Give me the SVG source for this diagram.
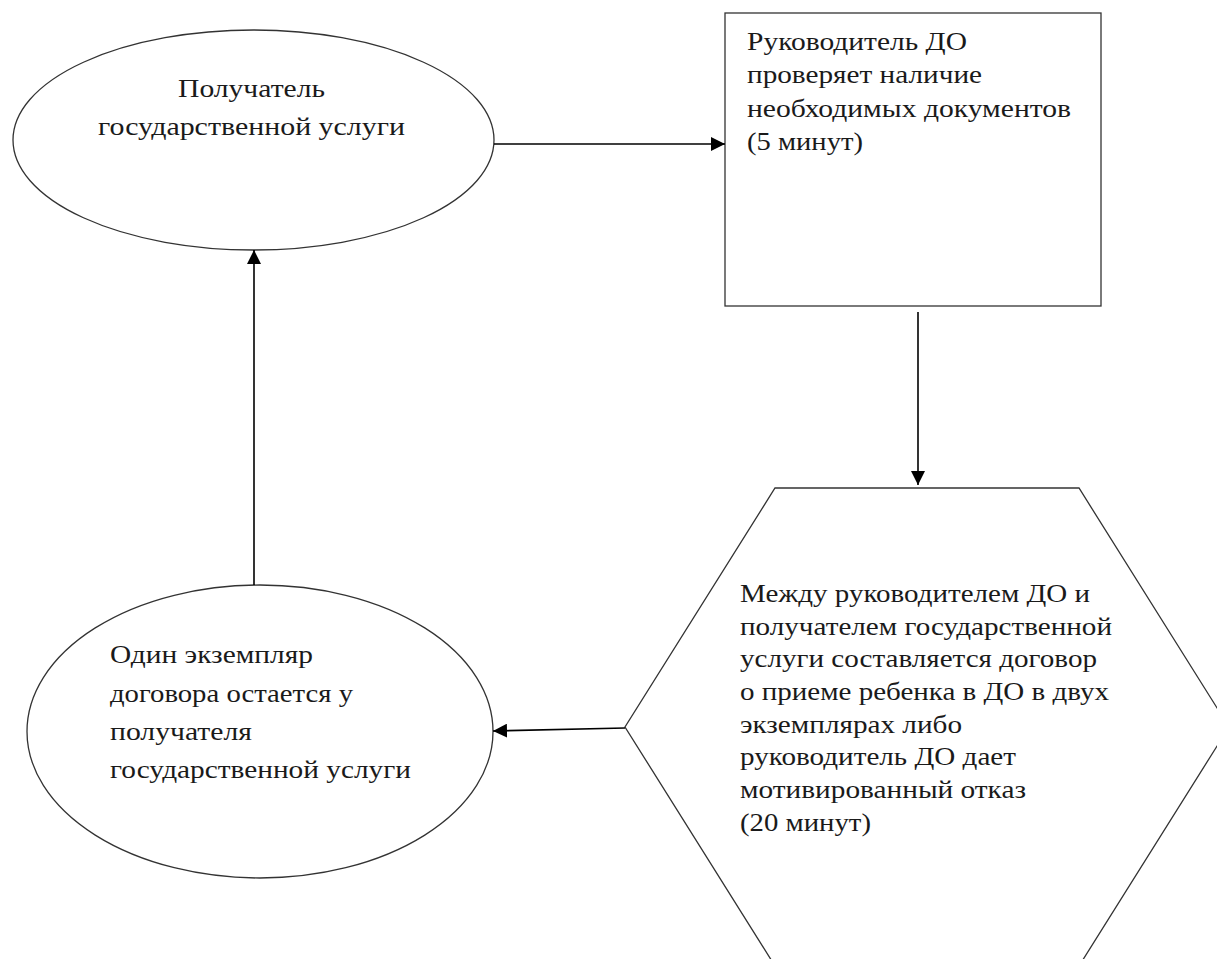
<svg xmlns="http://www.w3.org/2000/svg" width="1217" height="959" viewBox="0 0 1217 959">
<style>
.shape{fill:#fff;stroke:#333;stroke-width:1.3}
.conn{stroke:#000;stroke-width:1.6;fill:none}
.t{font-family:'Liberation Serif','Times New Roman',serif;font-size:26px;fill:#1a1a1a}
</style>
<defs>
<marker id="arr" viewBox="0 0 14 14" refX="14" refY="7" markerWidth="14" markerHeight="14" markerUnits="userSpaceOnUse" orient="auto">
<path d="M0,0 L14,7 L0,14 z" fill="#000"/>
</marker>
</defs>
<rect width="1217" height="959" fill="#fff"/>
<g id="recipient">
<ellipse class="shape" cx="253.5" cy="140" rx="240.5" ry="110"/>
<g class="t">
<text x="178" y="97" textLength="147" lengthAdjust="spacingAndGlyphs">Получатель</text>
<text x="98" y="135" textLength="307" lengthAdjust="spacingAndGlyphs">государственной услуги</text>
</g>
</g>
<g id="check">
<rect class="shape" x="725" y="13" width="376" height="293"/>
<g class="t">
<text x="747" y="50" textLength="220" lengthAdjust="spacingAndGlyphs">Руководитель ДО</text>
<text x="747" y="83" textLength="235" lengthAdjust="spacingAndGlyphs">проверяет наличие</text>
<text x="747" y="117" textLength="324" lengthAdjust="spacingAndGlyphs">необходимых документов</text>
<text x="747" y="150" textLength="116" lengthAdjust="spacingAndGlyphs">(5 минут)</text>
</g>
</g>
<g id="contract">
<polygon class="shape" points="775,488 1079,488 1229,727 1079,966 775,966 625,727"/>
<g class="t">
<text x="740" y="602" textLength="350" lengthAdjust="spacingAndGlyphs">Между руководителем ДО и</text>
<text x="740" y="635" textLength="372" lengthAdjust="spacingAndGlyphs">получателем государственной</text>
<text x="740" y="667" textLength="357" lengthAdjust="spacingAndGlyphs">услуги составляется договор</text>
<text x="740" y="700" textLength="369" lengthAdjust="spacingAndGlyphs">о приеме ребенка в ДО в двух</text>
<text x="740" y="733" textLength="222" lengthAdjust="spacingAndGlyphs">экземплярах либо</text>
<text x="740" y="765" textLength="276" lengthAdjust="spacingAndGlyphs">руководитель ДО дает</text>
<text x="740" y="798" textLength="286" lengthAdjust="spacingAndGlyphs">мотивированный отказ</text>
<text x="740" y="831" textLength="131" lengthAdjust="spacingAndGlyphs">(20 минут)</text>
</g>
</g>
<g id="copy">
<ellipse class="shape" cx="260" cy="731.5" rx="233" ry="146.5"/>
<g class="t">
<text x="110" y="663" textLength="203" lengthAdjust="spacingAndGlyphs">Один экземпляр</text>
<text x="110" y="702" textLength="243" lengthAdjust="spacingAndGlyphs">договора остается у</text>
<text x="110" y="740" textLength="142" lengthAdjust="spacingAndGlyphs">получателя</text>
<text x="110" y="778" textLength="301" lengthAdjust="spacingAndGlyphs">государственной услуги</text>
</g>
</g>
<g id="connectors">
<line class="conn" x1="494" y1="144" x2="725" y2="144" marker-end="url(#arr)"/>
<line class="conn" x1="918" y1="312" x2="918" y2="485" marker-end="url(#arr)"/>
<line class="conn" x1="625" y1="728" x2="493" y2="731" marker-end="url(#arr)"/>
<line class="conn" x1="254" y1="585" x2="254" y2="250" marker-end="url(#arr)"/>
</g>
</svg>
